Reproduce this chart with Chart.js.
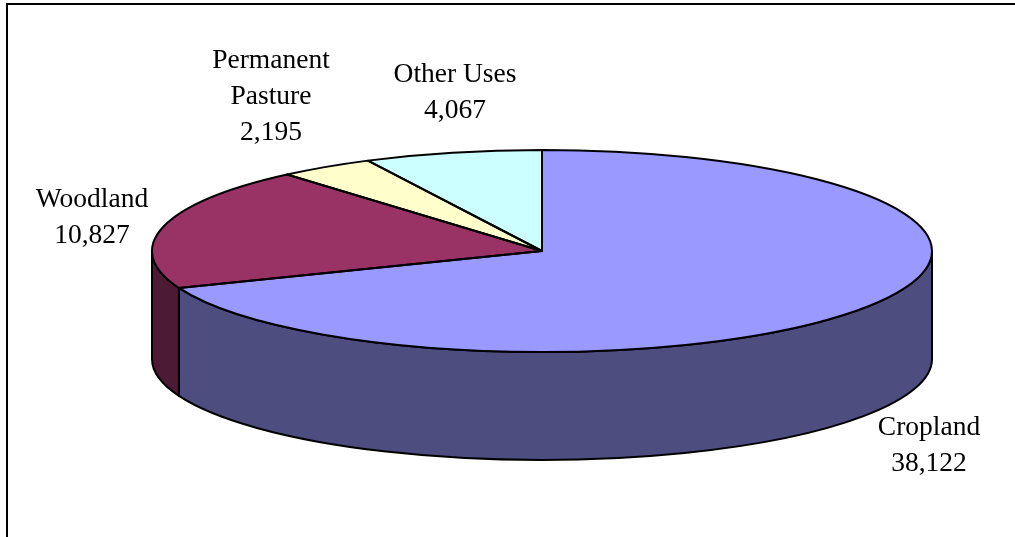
<!DOCTYPE html>
<html>
<head>
<meta charset="utf-8">
<title>Land use</title>
<script src="https://cdn.jsdelivr.net/npm/chart.js@4"></script>
<style>
    html, body { margin: 0; padding: 0; background: #fff; overflow: hidden; }
    #wrap { position: relative; width: 1015px; height: 537px; overflow: hidden; }
    #frame { position: absolute; left: 6px; top: 3px; width: 1100px; height: 700px; border: 2px solid #000; }
    canvas { position: absolute; left: 0; top: 0; }
</style>
</head>
<body>
<div id="wrap">
    <div id="frame"></div>
    <canvas id="landChart" width="1015" height="537"></canvas>
</div>
<script>
const categories = ['Cropland', 'Woodland', 'Permanent Pasture', 'Other Uses'];
const values = [38122, 10827, 2195, 4067];
const topColors = ['#9999FF', '#993366', '#FFFFCC', '#CCFFFF'];
const sideColors = ['#4D4D80', '#4D1A33', '#808066', '#668080'];

// lines of each label, with where it sits (centre x, first baseline)
const labelLines = [['Cropland'], ['Woodland'], ['Permanent', 'Pasture'], ['Other Uses']];
const labelAnchors = [[929, 435], [92, 207], [271, 68], [455, 82]];

// the squashed disc
const cx = 542, cy = 251, rx = 390, ry = 101, depth = 108;

const disc3d = {
    id: 'disc3d',
    beforeDatasetsDraw(chart) {
        const ctx = chart.ctx;
        const arcs = chart.getDatasetMeta(0).data;
        ctx.save();
        ctx.lineWidth = 2;
        ctx.strokeStyle = '#000';
        ctx.lineJoin = 'round';
        // side wall, only the front half of the disc shows (0..PI on the canvas)
        arcs.forEach((arc, i) => {
            const a1 = Math.max(arc.startAngle, 0);
            const a2 = Math.min(arc.endAngle, Math.PI);
            if (a2 <= a1) return;
            ctx.beginPath();
            ctx.ellipse(cx, cy, rx, ry, 0, a1, a2);
            ctx.ellipse(cx, cy + depth, rx, ry, 0, a2, a1, true);
            ctx.closePath();
            ctx.fillStyle = sideColors[i];
            ctx.fill();
            ctx.stroke();
        });
        ctx.restore();

        const arc = arcs[0];
        ctx.save();
        ctx.translate(cx, cy);
        ctx.scale(rx / arc.outerRadius, ry / arc.outerRadius);
        ctx.translate(-arc.x, -arc.y);
    },
    afterDatasetsDraw(chart) {
        const ctx = chart.ctx;
        ctx.restore();
        ctx.save();
        ctx.lineWidth = 2;
        ctx.strokeStyle = '#000';
        ctx.lineJoin = 'round';
        chart.getDatasetMeta(0).data.forEach(arc => {
            ctx.beginPath();
            ctx.moveTo(cx, cy);
            ctx.ellipse(cx, cy, rx, ry, 0, arc.startAngle, arc.endAngle);
            ctx.closePath();
            ctx.stroke();
        });
        ctx.fillStyle = '#000';
        ctx.font = '27.5px "Liberation Serif"';
        ctx.textAlign = 'center';
        ctx.textBaseline = 'alphabetic';
        values.forEach((v, i) => {
            const lines = labelLines[i].concat(v.toLocaleString('en-US'));
            lines.forEach((line, n) => {
                ctx.fillText(line, labelAnchors[i][0], labelAnchors[i][1] + n * 36);
            });
        });
        ctx.restore();
    }
};

new Chart(document.getElementById('landChart'), {
    type: 'pie',
    data: {
        labels: categories,
        datasets: [{
            data: values,
            backgroundColor: topColors,
            borderWidth: 0
        }]
    },
    options: {
        responsive: false,
        animation: false,
        plugins: { legend: { display: false }, tooltip: { enabled: false } }
    },
    plugins: [disc3d]
});
</script>
</body>
</html>
